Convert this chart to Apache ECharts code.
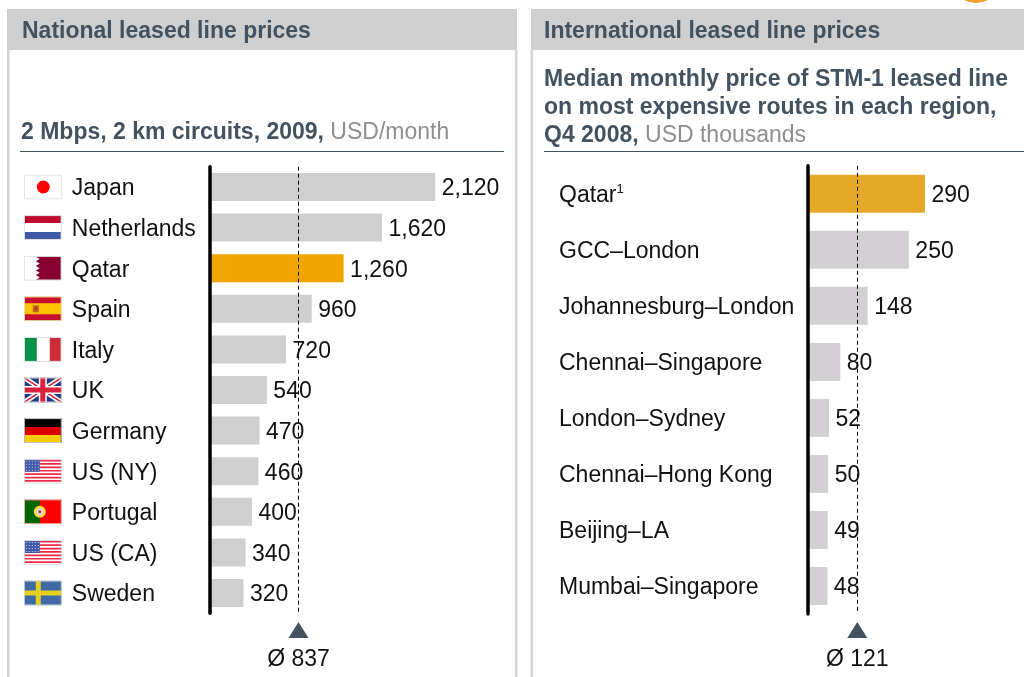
<!DOCTYPE html>
<html>
<head>
<meta charset="utf-8">
<style>html,body{margin:0;padding:0;background:#fff}#main{width:1024px;height:677px}</style>
<script src="https://cdn.jsdelivr.net/npm/echarts@6/dist/echarts.min.js"></script>
</head>
<body>
<div id="main"></div>
<script>
var natCountries = ['Japan', 'Netherlands', 'Qatar', 'Spain', 'Italy', 'UK', 'Germany', 'US (NY)', 'Portugal', 'US (CA)', 'Sweden'];
var natValues = [2120, 1620, 1260, 960, 720, 540, 470, 460, 400, 340, 320];
var natMean = 837;
var intlRoutes = ['Qatar', 'GCC–London', 'Johannesburg–London', 'Chennai–Singapore', 'London–Sydney', 'Chennai–Hong Kong', 'Beijing–LA', 'Mumbai–Singapore'];
var intlValues = [290, 250, 148, 80, 52, 50, 49, 48];
var intlMean = 121;

var FONT = '"Liberation Sans", Arial, sans-serif';
var SLATE = '#44525f';

// little svg flags, 38x25, used as axis label backgrounds
function svgFlag(body) {
    var s = '<svg xmlns="http://www.w3.org/2000/svg" width="38" height="25" viewBox="0 0 38 25">' + body +
        '<rect x="0.5" y="0.5" width="37" height="24" fill="none" stroke="#dcdcdc"/></svg>';
    return 'data:image/svg+xml;charset=utf-8,' + encodeURIComponent(s);
}
function r(x, y, w, h, c) {
    return '<rect x="' + x + '" y="' + y + '" width="' + w + '" height="' + h + '" fill="' + c + '"/>';
}
function usFlag() {
    var s = r(0, 0, 38, 25, '#fff');
    for (var i = 0; i < 7; i++) s += r(0, 1 + i * 3.4, 38, 1.7, '#ee2a4a');
    s += r(1, 1, 15, 12, '#3f5aa8');
    for (var a = 0; a < 4; a++) for (var b = 0; b < 5; b++) s += r(2 + b * 3, 2 + a * 3, 1, 1, '#c8d2ee');
    return svgFlag(s);
}
var flags = {
    'Japan': svgFlag(r(0, 0, 38, 25, '#fff') + '<circle cx="19.5" cy="12.5" r="6.5" fill="#f00"/>'),
    'Netherlands': svgFlag(r(0, 0, 38, 25, '#fff') + r(1, 1, 36, 7, '#be0d2e') + r(1, 17, 36, 7, '#3f5ba6')),
    'Qatar': svgFlag(r(0, 0, 38, 25, '#fff') + '<polygon fill="#860030" points="12,1 37,1 37,24 12,24 16,21.7 12,19.4 16,17.1 12,14.8 16,12.5 12,10.2 16,7.9 12,5.6 16,3.3" />'),
    'Spain': svgFlag(r(0, 0, 38, 25, '#ffc400') + r(1, 1, 36, 6, '#c8102e') + r(1, 18, 36, 6, '#c8102e') + r(9, 9, 6, 7, '#b5651d') + r(11, 11, 3, 3, '#d8362a')),
    'Italy': svgFlag(r(0, 0, 38, 25, '#fff') + r(1, 1, 12, 23, '#009246') + r(26, 1, 11, 23, '#ce2b37')),
    'UK': svgFlag(r(0, 0, 38, 25, '#1f3a82') +
        '<path d="M0 0L38 25M38 0L0 25" stroke="#fff" stroke-width="5"/><path d="M0 0L38 25M38 0L0 25" stroke="#d8213a" stroke-width="1.6"/>' +
        r(15, 0, 8, 25, '#fff') + r(0, 8.5, 38, 8, '#fff') + r(16.5, 0, 5, 25, '#d8213a') + r(0, 10, 38, 5, '#d8213a')),
    'Germany': svgFlag(r(0, 0, 38, 25, '#000') + r(1, 9, 36, 8, '#dd0000') + r(1, 17, 36, 7, '#ffce00')),
    'US (NY)': usFlag(),
    'Portugal': svgFlag(r(0, 0, 38, 25, '#f00') + r(1, 1, 15, 23, '#006600') + '<circle cx="16" cy="12.5" r="6" fill="#ffd83a"/><circle cx="16" cy="12.5" r="3.6" fill="#d9dff0"/><circle cx="16" cy="12.5" r="1.6" fill="#c0392b"/>'),
    'US (CA)': usFlag(),
    'Sweden': svgFlag(r(0, 0, 38, 25, '#3f6aa5') + r(12, 0, 5, 25, '#e6cf1f') + r(0, 10, 38, 5, '#e6cf1f'))
};

var natRich = {
    name: {fontFamily: FONT, fontSize: 23, color: '#111', padding: [4, 0, 0, 10], lineHeight: 26}
};
natCountries.forEach(function (c, i) {
    natRich['f' + i] = {width: 38, height: 25, backgroundColor: {image: flags[c]}};
});

// one panel = bar grid + a small hidden grid under it for the mean marker
function barSeries(xi, values, hiIdx, barGray, barHi, barW, mean, fmt) {
    return {
        type: 'bar',
        xAxisIndex: xi,
        yAxisIndex: xi,
        barWidth: barW,
        z: 2,
        data: values.map(function (v, i) {
            return {value: v, itemStyle: {color: i === hiIdx ? barHi : barGray}};
        }),
        label: {
            show: true,
            position: 'right',
            distance: 6.5,
            offset: [0, 2],
            fontFamily: FONT,
            fontSize: 23,
            color: '#111',
            backgroundColor: '#fff',
            padding: [0, 0],
            formatter: function (p) { return fmt(p.value); }
        },
        markLine: {
            silent: true,
            symbol: 'none',
            animation: false,
            label: {show: false},
            lineStyle: {color: '#000', width: 1, type: [4, 3]},
            data: [{xAxis: mean}]
        }
    };
}
function meanSeries(xi, mean) {
    return {
        type: 'scatter',
        xAxisIndex: xi,
        yAxisIndex: xi,
        symbol: 'triangle',
        symbolSize: [20, 16],
        itemStyle: {color: SLATE, opacity: 1},
        data: [[mean, 0.5]],
        label: {
            show: true,
            position: 'bottom',
            distance: 10,
            fontFamily: FONT,
            fontSize: 23,
            color: '#111',
            formatter: function () { return 'Ø ' + mean; }
        }
    };
}
function thousands(v) { return String(v).replace(/\B(?=(\d{3})+$)/g, ','); }

var headRich = {
    b: {fontFamily: FONT, fontSize: 23, fontWeight: 'bold', color: SLATE, lineHeight: 28},
    g: {fontFamily: FONT, fontSize: 23, fontWeight: 'normal', color: '#8e8e8e', lineHeight: 28}
};

var option = {
    animation: false,
    backgroundColor: '#fff',
    title: [
        {text: 'National leased line prices', left: 22, top: 20, padding: 0,
            textStyle: {fontFamily: FONT, fontSize: 23, fontWeight: 'bold', color: SLATE}},
        {text: 'International leased line prices', left: 544, top: 20, padding: 0,
            textStyle: {fontFamily: FONT, fontSize: 23, fontWeight: 'bold', color: SLATE}},
        {text: '{b|2 Mbps, 2 km circuits, 2009,}{g| USD/month}', left: 21, top: 119, padding: 0,
            textStyle: {rich: headRich}},
        {text: '{b|Median monthly price of STM-1 leased line}\n{b|on most expensive routes in each region,}\n{b|Q4 2008,}{g| USD thousands}',
            left: 544, top: 66, padding: 0, textStyle: {rich: headRich}}
    ],
    graphic: [
        {type: 'rect', shape: {x: 7, y: 9, width: 510, height: 41}, style: {fill: '#cfcfcf'}},
        {type: 'rect', shape: {x: 531, y: 9, width: 493, height: 41}, style: {fill: '#cfcfcf'}},
        {type: 'rect', shape: {x: 7, y: 50, width: 2.5, height: 627}, style: {fill: '#d4d4d4'}},
        {type: 'rect', shape: {x: 515, y: 50, width: 2.5, height: 627}, style: {fill: '#d4d4d4'}},
        {type: 'rect', shape: {x: 530.5, y: 50, width: 2.5, height: 627}, style: {fill: '#d4d4d4'}},
        {type: 'line', shape: {x1: 20, y1: 151.5, x2: 504, y2: 151.5}, style: {stroke: SLATE, lineWidth: 1}},
        {type: 'line', shape: {x1: 544, y1: 151.5, x2: 1024, y2: 151.5}, style: {stroke: SLATE, lineWidth: 1}},
        {type: 'circle', shape: {cx: 976, cy: -22, r: 23}, style: {fill: 'none', stroke: '#f0a030', lineWidth: 4}}
    ],
    grid: [
        {left: 209.3, top: 166.7, width: 226, height: 446.6},
        {left: 808, top: 165.8, width: 117, height: 448.2},
        {left: 209.3, top: 622, width: 226, height: 16},
        {left: 808.5, top: 622, width: 117, height: 16}
    ],
    xAxis: [
        {gridIndex: 0, type: 'value', min: 0, max: 2120, show: false},
        {gridIndex: 1, type: 'value', min: 0, max: 290, show: false},
        {gridIndex: 2, type: 'value', min: 0, max: 2120, show: false},
        {gridIndex: 3, type: 'value', min: 0, max: 290, show: false}
    ],
    yAxis: [
        {
            gridIndex: 0, type: 'category', inverse: true, data: natCountries, z: 5,
            axisLine: {lineStyle: {color: '#000', width: 3.5, cap: 'round'}},
            axisTick: {show: false},
            axisLabel: {
                align: 'left', margin: 185.5, interval: 0, rich: natRich,
                formatter: function (v, i) { return '{f' + i + '|}{name|' + v + '}'; }
            }
        },
        {
            gridIndex: 1, type: 'category', inverse: true, data: intlRoutes, z: 5,
            axisLine: {lineStyle: {color: '#000', width: 3.5, cap: 'round'}},
            axisTick: {show: false},
            axisLabel: {
                align: 'left', margin: 249, interval: 0,
                rich: {
                    name: {fontFamily: FONT, fontSize: 23, color: '#111', lineHeight: 26, padding: [4, 0, 0, 0]},
                    sup: {fontFamily: FONT, fontSize: 13, color: '#111', verticalAlign: 'top', lineHeight: 16, padding: [2, 0, 0, 0]}
                },
                formatter: function (v, i) { return '{name|' + v + '}' + (i === 0 ? '{sup|1}' : ''); }
            }
        },
        {gridIndex: 2, type: 'value', min: 0, max: 1, show: false},
        {gridIndex: 3, type: 'value', min: 0, max: 1, show: false}
    ],
    series: [
        barSeries(0, natValues, 2, '#cfcfcf', '#f0a500', 28, natMean, thousands),
        barSeries(1, intlValues, 0, '#d2d0d3', '#e6a827', 38, intlMean, thousands),
        meanSeries(2, natMean),
        meanSeries(3, intlMean)
    ]
};

var myChart = echarts.init(document.getElementById('main'), null, {renderer: 'canvas'});
myChart.setOption(option);
</script>
</body>
</html>
